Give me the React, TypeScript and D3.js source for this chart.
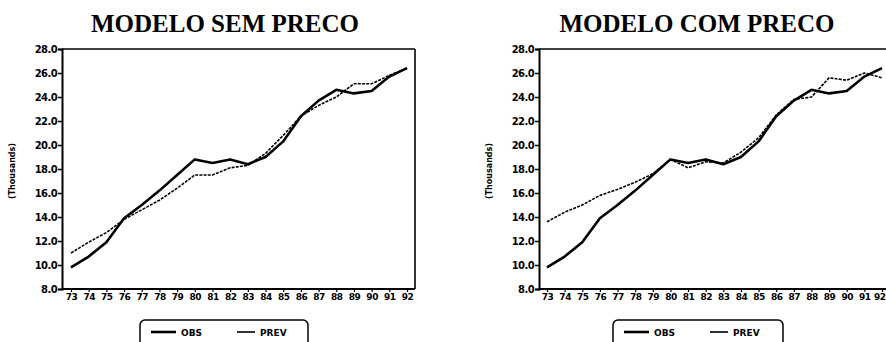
import React, { useEffect, useRef } from 'react';
import * as d3 from 'd3';

const years = ['73', '74', '75', '76', '77', '78', '79', '80', '81', '82', '83', '84', '85', '86', '87', '88', '89', '90', '91', '92'];
const yTicks = [8, 10, 12, 14, 16, 18, 20, 22, 24, 26, 28];

// observed (same series in both panels)
const obs = [9.8, 10.7, 11.9, 13.9, 15.0, 16.2, 17.5, 18.8, 18.5, 18.8, 18.4, 19.0, 20.3, 22.4, 23.7, 24.6, 24.3, 24.5, 25.7, 26.4];
// forecast, model without price
const prevSemPreco = [11.0, 11.9, 12.7, 13.8, 14.6, 15.4, 16.4, 17.5, 17.5, 18.1, 18.3, 19.3, 20.8, 22.4, 23.3, 24.0, 25.1, 25.1, 25.8, 26.4];
// forecast, model with price
const prevComPreco = [13.6, 14.4, 15.0, 15.8, 16.3, 16.9, 17.6, 18.8, 18.1, 18.6, 18.5, 19.4, 20.6, 22.5, 23.8, 24.0, 25.6, 25.4, 26.0, 25.6];

const TICK_FONT = '"DejaVu Sans", sans-serif';
const W = 886;

interface PanelProps {
  svg: d3.Selection<SVGSVGElement, unknown, null, undefined>;
  title: string;
  titleX: number;
  left: number;
  right: number;
  firstX: number;
  lastX: number;
  prev: number[];
  legendX: number;
  legendW: number;
}

function drawPanel({ svg, title, titleX, left, right, firstX, lastX, prev, legendX, legendW }: PanelProps) {
  const top = 49;
  const bottom = 289;

  const x = d3.scalePoint<string>().domain(years).range([firstX, lastX]);
  const y = d3.scaleLinear().domain([8, 28]).range([bottom, top]);

  const g = svg.append('g');

  // title
  g.append('text')
    .attr('x', titleX)
    .attr('y', 32)
    .attr('text-anchor', 'middle')
    .attr('font-family', '"Liberation Serif", serif')
    .attr('font-weight', 'bold')
    .attr('font-size', 25)
    .text(title);

  // frame
  g.append('line').attr('x1', left).attr('x2', right).attr('y1', top).attr('y2', top)
    .attr('stroke', '#000').attr('stroke-width', 1.6);
  g.append('line').attr('x1', right).attr('x2', right).attr('y1', top).attr('y2', bottom)
    .attr('stroke', '#000').attr('stroke-width', 1.6);

  // y axis
  const yAxis = g.append('g')
    .attr('transform', `translate(${left},0)`)
    .call(d3.axisLeft(y).tickValues(yTicks).tickSize(4).tickPadding(1).tickFormat(d3.format('.1f')));
  yAxis.select('.domain').attr('stroke-width', 2);
  yAxis.selectAll('.tick line').attr('stroke-width', 1.5);
  yAxis.selectAll('text')
    .attr('font-family', TICK_FONT)
    .attr('font-weight', 'bold')
    .attr('font-size', 10)
    .attr('letter-spacing', -0.6);

  // x axis
  const xAxis = g.append('g')
    .attr('transform', `translate(0,${bottom})`)
    .call(d3.axisBottom(x).tickSize(3).tickPadding(2).tickSizeOuter(0));
  xAxis.select('.domain').attr('d', `M${left},0H${right}`).attr('stroke-width', 2);
  xAxis.selectAll('.tick line').attr('stroke-width', 1.2);
  xAxis.selectAll<SVGTextElement, string>('text')
    .attr('font-family', TICK_FONT)
    .attr('font-weight', 'bold')
    .attr('font-size', 9)
    .attr('letter-spacing', -0.5)
    .each(function (d) {
      // keep a label near the window edge inside it
      const px = x(d) as number;
      if (px + 7 > W) d3.select(this).attr('text-anchor', 'end').attr('x', W - px - 1);
    });

  // y label
  g.append('text')
    .attr('transform', `translate(${left - 47},${(top + bottom) / 2 + 2}) rotate(-90)`)
    .attr('text-anchor', 'middle')
    .attr('font-family', TICK_FONT)
    .attr('font-weight', 'bold')
    .attr('font-size', 8)
    .text('(Thousands)');

  const line = d3.line<number>()
    .x((_, i) => x(years[i]) as number)
    .y(d => y(d));

  g.append('path')
    .datum(prev)
    .attr('fill', 'none')
    .attr('stroke', '#000')
    .attr('stroke-width', 1.6)
    .attr('stroke-dasharray', '3,1.2')
    .attr('d', line);

  g.append('path')
    .datum(obs)
    .attr('fill', 'none')
    .attr('stroke', '#000')
    .attr('stroke-width', 2.6)
    .attr('stroke-linejoin', 'round')
    .attr('d', line);

  // legend
  const lg = g.append('g').attr('transform', `translate(${legendX},320)`);
  lg.append('rect')
    .attr('width', legendW)
    .attr('height', 40)
    .attr('rx', 5)
    .attr('fill', 'none')
    .attr('stroke', '#000')
    .attr('stroke-width', 1.5);
  const items = [
    { label: 'OBS', w: 2.6, x0: 11, x1: 36, tx: 41 },
    { label: 'PREV', w: 1.6, x0: 97, x1: 115, tx: 120 }
  ];
  items.forEach(it => {
    lg.append('line')
      .attr('x1', it.x0).attr('x2', it.x1).attr('y1', 12).attr('y2', 12)
      .attr('stroke', '#000').attr('stroke-width', it.w);
    lg.append('text')
      .attr('x', it.tx)
      .attr('y', 15.5)
      .attr('font-family', TICK_FONT)
      .attr('font-weight', 'bold')
      .attr('font-size', 9)
      .text(it.label);
  });
}

export default function App() {
  const svgRef = useRef<SVGSVGElement>(null);

  useEffect(() => {
    if (!svgRef.current) return;
    const svg = d3.select(svgRef.current);
    svg.selectAll('*').remove();

    drawPanel({
      svg, title: 'MODELO SEM PRECO', titleX: 225,
      left: 62, right: 415, firstX: 71, lastX: 407,
      prev: prevSemPreco, legendX: 140, legendW: 168
    });
    drawPanel({
      svg, title: 'MODELO COM PRECO', titleX: 697,
      left: 539, right: 891, firstX: 547, lastX: 882,
      prev: prevComPreco, legendX: 613, legendW: 170
    });
  }, []);

  return (
    <svg
      ref={svgRef}
      width={W}
      height={342}
      style={{ position: 'absolute', left: 0, top: 0, background: '#fff' }}
    />
  );
}
